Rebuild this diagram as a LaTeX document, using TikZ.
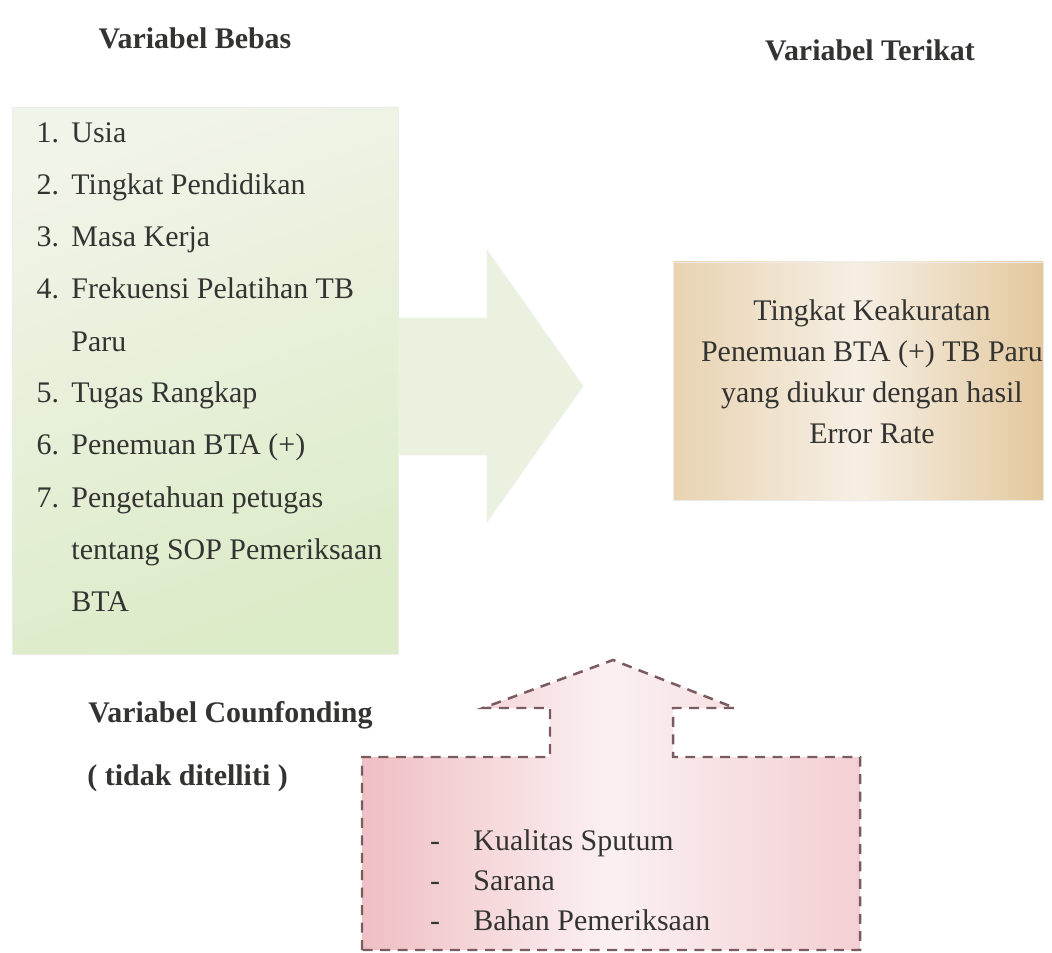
\documentclass[tikz,border=0pt]{standalone}
\usepackage{fontspec}
\setmainfont{Liberation Serif}
\usetikzlibrary{positioning, calc}
\definecolor{bebasHijau}{HTML}{DCEBC8}
\definecolor{bebasMuda}{HTML}{F1F4E8}
\definecolor{panahHijau}{HTML}{EBF1DF}
\definecolor{terikatTua}{HTML}{E3C89E}
\definecolor{terikatMuda}{HTML}{F6EFE4}
\definecolor{cfMerah}{HTML}{EFBFC4}
\definecolor{cfMuda}{HTML}{FBF0F1}
\definecolor{garisCf}{HTML}{7A5C60}
\definecolor{teksGelap}{HTML}{333331}

\begin{document}
\begin{tikzpicture}[
  x=0.0141cm, y=-0.0141cm,
  judul/.style={font=\fontsize{12}{14}\selectfont\bfseries, text=teksGelap, inner sep=0pt},
  butir/.style={font=\fontsize{12}{14}\selectfont, text=teksGelap, inner sep=0pt, anchor=base west},
  teksTerikat/.style={font=\fontsize{12}{16.4}\selectfont, text=teksGelap, align=center, inner sep=0pt},
  kotakBebas/.style={draw=black!8, top color=bebasMuda, bottom color=bebasHijau, shading angle=20},
  panahBebas/.style={draw=bebasHijau!80!black!20, fill=panahHijau},
  kotakTerikat/.style={draw=black!8, left color=terikatTua!80, right color=terikatTua, middle color=terikatMuda},
  panahCf/.style={draw=garisCf, line width=1pt, dash pattern=on 4pt off 3pt,
                  left color=cfMerah, right color=cfMerah!75, middle color=cfMuda}
]
\useasboundingbox (0,0) rectangle (1052,953);

% judul
\node[judul] (jBebas) at (195,38) {Variabel Bebas};
\node[judul] (jTerikat) at (870,50) {Variabel Terikat};
\node[judul, anchor=west] (jCf) at (88,715) {Variabel Counfonding};
\node[judul, anchor=west] (jCfKet) at (87,778) {( tidak ditelliti )};

% variabel bebas
\shade[kotakBebas] (12,108) rectangle (398,654);
\coordinate (bebasKanan) at (398,386);
\path[panahBebas] (398,318) -- (487,318) -- (487,250) -- (583,386)
  -- (487,522) -- (487,455) -- (398,455);
\foreach \no/\isi [count=\i from 0] in {1./Usia, 2./Tingkat Pendidikan, 3./Masa Kerja,
    4./Frekuensi Pelatihan TB, /Paru, 5./Tugas Rangkap, 6./Penemuan BTA (+),
    7./Pengetahuan petugas, /tentang SOP Pemeriksaan, /BTA}
  \node[butir] (b\i) at (71,{143+52*\i}) {\llap{\makebox[0.49cm][l]{\no}}\isi};

% variabel terikat
\shade[kotakTerikat] (673,262) rectangle (1043,500);
\node[teksTerikat] (terikat) at (872,372)
  {Tingkat Keakuratan\\Penemuan BTA (+) TB Paru\\yang diukur dengan hasil\\Error Rate};

% variabel counfonding
\shade[panahCf] (362,950) -- (362,757) -- (550,757) -- (550,708) -- (483,708)
  -- (613,660) -- (735,708) -- (673,708) -- (673,757) -- (860,757) -- (860,950) -- cycle;
\foreach \isi [count=\i from 0] in {Kualitas Sputum, Sarana, Bahan Pemeriksaan}
  \node[butir] (c\i) at (473,{850+40*\i}) {\llap{\makebox[0.61cm][l]{-}}\isi};
\end{tikzpicture}
\end{document}
